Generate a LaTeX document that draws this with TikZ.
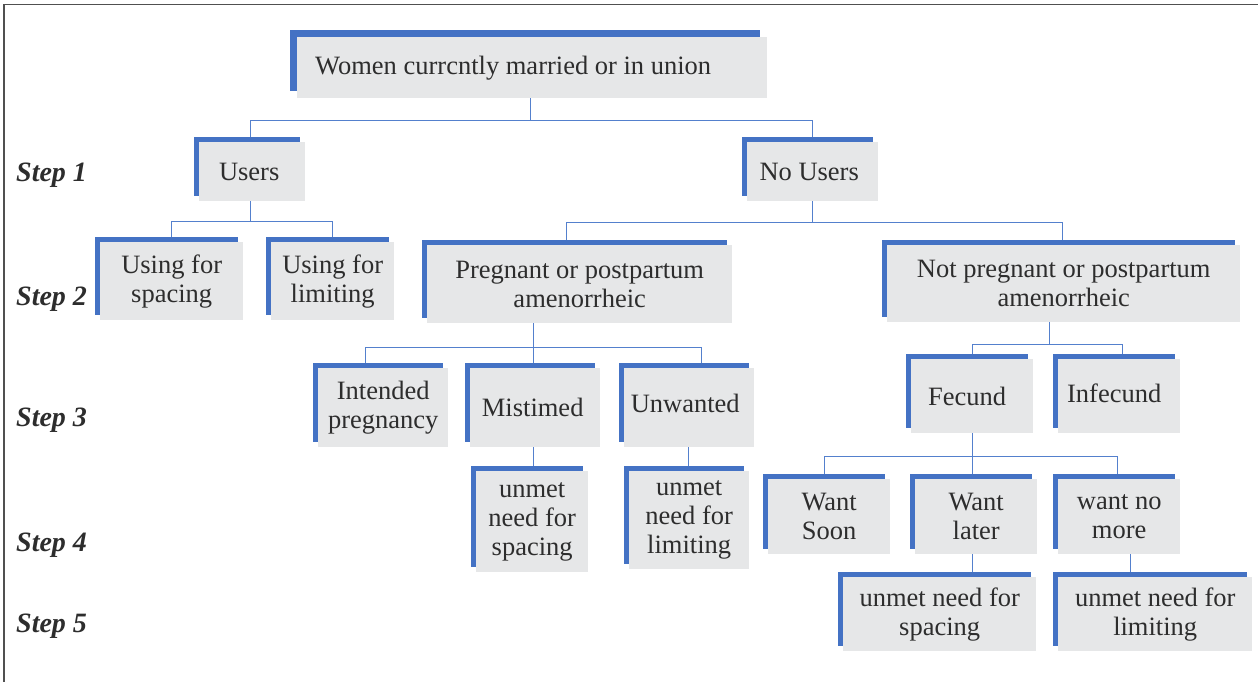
\documentclass[tikz,border=0pt]{standalone}
\usepackage{fontspec}
\setmainfont{Liberation Serif}
\usetikzlibrary{shadows,backgrounds}
\definecolor{boxblue}{RGB}{68,114,196}
\definecolor{connblue}{RGB}{84,128,205}
\definecolor{boxgray}{RGB}{230,231,232}
\definecolor{txt}{RGB}{45,45,45}
\definecolor{framec}{RGB}{80,80,80}
\tikzset{
  gbox/.style={fill=boxgray, text=txt, inner sep=0pt, anchor=north west,
    align=center, font=\fontsize{26.5}{29}\selectfont,
    general shadow={fill=boxblue, shadow xshift=-#1, shadow yshift=#1}},
  gbox/.default=5pt,
  conn/.style={draw=connblue, line width=1.3pt},
  steplabel/.style={anchor=base west, inner sep=0pt, text=txt,
    font=\fontsize{28}{30}\selectfont\bfseries\itshape},
  framel/.style={draw=framec, line width=1.6pt}
}
\begin{document}
\begin{tikzpicture}[x=1pt,y=-1pt]
\useasboundingbox (0,0) rectangle (1258,682);

% boxes
\node[gbox=7pt, minimum width=470pt, minimum height=61pt] (W) at (297,37) {\kern-38pt Women currcntly married or in union};
\node[gbox, minimum width=106pt, minimum height=59pt] (U) at (199,142) {\kern-6pt Users};
\node[gbox, minimum width=131pt, minimum height=59pt] (NU) at (747,142) {\kern-7pt No Users};
\node[gbox, minimum width=143pt, minimum height=78pt] (S1) at (100,242) {Using for\\spacing};
\node[gbox, minimum width=123pt, minimum height=78pt] (L1) at (271,242) {Using for\\limiting};
\node[gbox, minimum width=305pt, minimum height=78pt] (P) at (427,245) {Pregnant or postpartum\\amenorrheic};
\node[gbox, minimum width=353pt, minimum height=77pt] (NP) at (887,245) {Not pregnant or postpartum\\amenorrheic};
\node[gbox, minimum width=130pt, minimum height=79pt] (IP) at (318,368) {Intended\\pregnancy};
\node[gbox, minimum width=130pt, minimum height=79pt] (MT) at (470,368) {\kern-5pt Mistimed};
\node[gbox, minimum width=130pt, minimum height=79pt, text depth=8pt] (UW) at (624,368) {\kern-8pt Unwanted};
\node[gbox, minimum width=112pt, minimum height=101pt] (US) at (476,471) {unmet\\need for\\spacing};
\node[gbox, minimum width=120pt, minimum height=98pt] (UL) at (629,471) {unmet\\need for\\limiting};
\node[gbox, minimum width=122pt, minimum height=74pt] (FE) at (911,359) {\kern-10pt Fecund};
\node[gbox, minimum width=122pt, minimum height=74pt, text depth=6pt] (IF) at (1058,359) {\kern-10pt Infecund};
\node[gbox, minimum width=122pt, minimum height=75pt] (WS) at (768,479) {Want\\Soon};
\node[gbox, minimum width=122pt, minimum height=75pt] (WL) at (915,479) {Want\\later};
\node[gbox, minimum width=122pt, minimum height=75pt] (WN) at (1058,479) {want no\\more};
\node[gbox, minimum width=193pt, minimum height=74pt] (RS) at (843,577) {unmet need for\\spacing};
\node[gbox, minimum width=194pt, minimum height=74pt] (RL) at (1058,577) {unmet need for\\limiting};

% step labels
\node[steplabel] (st1) at (16,182) {Step 1};
\node[steplabel] (st2) at (16,305) {Step 2};
\node[steplabel] (st3) at (16,426) {Step 3};
\node[steplabel] (st4) at (16,551) {Step 4};
\node[steplabel] (st5) at (16,632) {Step 5};

\begin{pgfonlayer}{background}
\fill[white] (0,0) rectangle (1258,682);
% frame
\draw[framel] (4,682) -- (4,4.5) -- (1258,4.5);
% connectors
\draw[conn] ([xshift=-2pt]W.south) -- ++(0,22) -| ([xshift=-2pt]U.north);
\draw[conn] ([xshift=-2pt]W.south) -- ++(0,22) -| (NU.north);
\draw[conn] ([xshift=-2pt]U.south) -- ++(0,20) -| (S1.north);
\draw[conn] ([xshift=-2pt]U.south) -- ++(0,20) -| (L1.north);
\draw[conn] (NU.south) -- ++(0,21) -| ([xshift=-13.5pt]P.north);
\draw[conn] (NU.south) -- ++(0,21) -| ([xshift=-1.5pt]NP.north);
\draw[conn] ([xshift=-46.5pt]P.south) -- ++(0,24) -| ([xshift=-18pt]IP.north);
\draw[conn] ([xshift=-46.5pt]P.south) -- ++(0,24) -| ([xshift=-2pt]MT.north);
\draw[conn] ([xshift=-46.5pt]P.south) -- ++(0,24) -| ([xshift=12pt]UW.north);
\draw[conn] ([xshift=-14.5pt]NP.south) -- ++(0,22) -| (FE.north);
\draw[conn] ([xshift=-14.5pt]NP.south) -- ++(0,22) -| ([xshift=3pt]IF.north);
\draw[conn] (FE.south) -- ++(0,23) -| ([xshift=-5pt]WS.north);
\draw[conn] (FE.south) -- ++(0,23) -| ([xshift=-4pt]WL.north);
\draw[conn] (FE.south) -- ++(0,23) -| ([xshift=-2pt]WN.north);
\draw[conn] ([xshift=-2pt]MT.south) -- ([xshift=-2pt]MT.south |- US.north);
\draw[conn] ([xshift=-1pt]UW.south) -- ([xshift=-1pt]UW.south |- UL.north);
\draw[conn] ([xshift=-4pt]WL.south) -- ([xshift=-4pt]WL.south |- RS.north);
\draw[conn] ([xshift=11pt]WN.south) -- ([xshift=11pt]WN.south |- RL.north);
\end{pgfonlayer}
\end{tikzpicture}
\end{document}
